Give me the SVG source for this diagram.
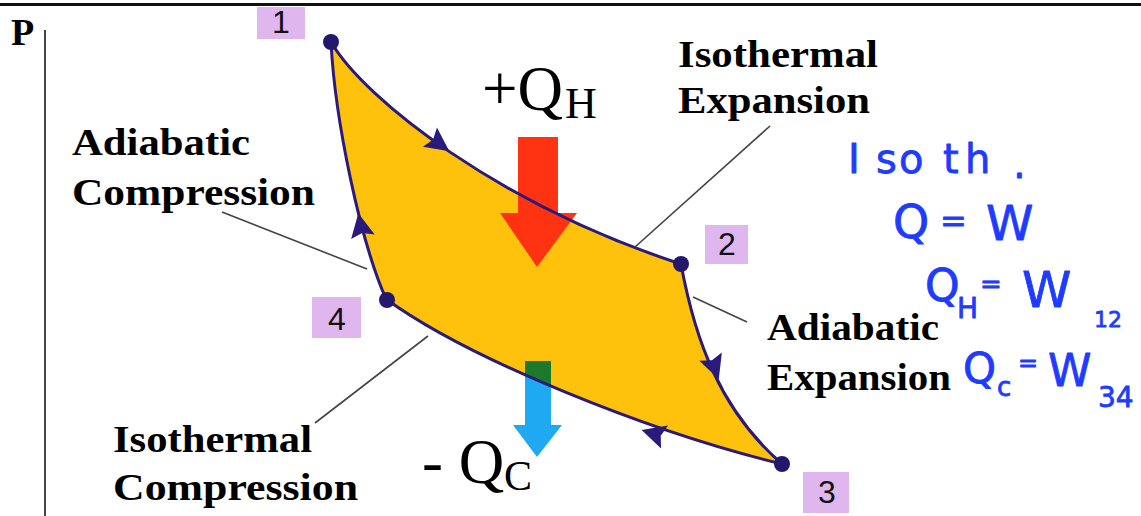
<svg xmlns="http://www.w3.org/2000/svg" width="1141" height="516" viewBox="0 0 1141 516">
<style>
.lbl{font-family:"Liberation Serif","Times New Roman",serif;font-weight:bold;font-size:38px;fill:#000}
.q{font-family:"Liberation Serif","Times New Roman",serif;fill:#000}
.num{font-family:"Liberation Sans",Arial,sans-serif;font-size:32px;fill:#111;text-anchor:middle}
.box{fill:#dfb6ee}
.lead{stroke:#444;stroke-width:1.6;fill:none}
.hw{font-family:"DejaVu Sans","Liberation Sans",sans-serif;fill:#1e3cff;stroke:#1e3cff;stroke-width:0.8;stroke-linejoin:round}
.dot{fill:#24186e}
.ah{fill:#2a1a7c}
</style>
<defs>
<path id="cyc" d="M331,42 C365,100 500,205 681,264 C695,340 720,410 782,464 C650,432 470,360 386,299 C360,240 335,120 331,42 Z"/>
<clipPath id="cycClip"><use href="#cyc"/></clipPath>
<path id="arrowHead" d="M14,0 L-10,-12 L-6,0 L-10,12 Z"/>
</defs>
<rect width="1141" height="516" fill="#fff"/>
<line x1="0" y1="4.5" x2="1141" y2="4.5" stroke="#111" stroke-width="3"/>
<g id="axis">
<line x1="45" y1="30" x2="45" y2="516" stroke="#444" stroke-width="2"/>
<text x="11" y="45" class="lbl" font-size="36">P</text>
</g>
<g id="cycle">
<use href="#cyc" fill="#fec10c"/>
</g>
<g id="heat-in">
<polygon points="518,137 558,137 558,213 577,213 537,267 500,213 518,213" fill="#ff3312"/>
<text x="482" y="110" class="q" font-size="63">+Q</text>
<text x="565" y="118" class="q" font-size="44">H</text>
</g>
<g id="heat-out">
<polygon points="525,361 551,361 551,425 562,425 537,457 513,425 525,425" fill="#1fa9f3"/>
<polygon points="525,361 551,361 551,425 562,425 537,457 513,425 525,425" fill="#1d7a2c" clip-path="url(#cycClip)"/>
<text x="422" y="483" class="q" font-size="63">- Q</text>
<text x="504" y="490" class="q" font-size="42">C</text>
</g>
<g id="connectors">
<use href="#cyc" fill="none" stroke="#2a1a7c" stroke-width="3"/>
<use href="#arrowHead" class="ah" transform="translate(438,143) rotate(36)"/>
<use href="#arrowHead" class="ah" transform="translate(714,366) rotate(70)"/>
<use href="#arrowHead" class="ah" transform="translate(655,434) rotate(197)"/>
<use href="#arrowHead" class="ah" transform="translate(361,227) rotate(259)"/>
<line class="lead" x1="222" y1="212" x2="367" y2="269"/>
<line class="lead" x1="635" y1="247" x2="770" y2="126"/>
<line class="lead" x1="693" y1="297" x2="747" y2="322"/>
<line class="lead" x1="428" y1="336" x2="315" y2="423"/>
</g>
<g id="state1">
<rect class="box" x="257" y="7" width="48" height="32"/>
<text class="num" x="281" y="33">1</text>
<circle class="dot" cx="331" cy="42" r="8"/>
</g>
<g id="state2">
<rect class="box" x="705" y="225" width="43" height="39"/>
<text class="num" x="727" y="255">2</text>
<circle class="dot" cx="681" cy="264" r="8"/>
</g>
<g id="state3">
<rect class="box" x="803" y="472" width="46" height="41"/>
<text class="num" x="827" y="503">3</text>
<circle class="dot" cx="782" cy="464" r="8"/>
</g>
<g id="state4">
<rect class="box" x="312" y="297" width="49" height="41"/>
<text class="num" x="337" y="330">4</text>
<circle class="dot" cx="387" cy="300" r="8"/>
</g>
<g id="label-adiabatic-compression">
<text class="lbl" x="72" y="155" textLength="178" lengthAdjust="spacingAndGlyphs">Adiabatic</text>
<text class="lbl" x="72" y="205" textLength="243" lengthAdjust="spacingAndGlyphs">Compression</text>
</g>
<g id="label-isothermal-expansion">
<text class="lbl" x="678" y="67" textLength="200" lengthAdjust="spacingAndGlyphs">Isothermal</text>
<text class="lbl" x="678" y="113" textLength="192" lengthAdjust="spacingAndGlyphs">Expansion</text>
</g>
<g id="label-adiabatic-expansion">
<text class="lbl" x="767" y="340" textLength="172" lengthAdjust="spacingAndGlyphs">Adiabatic</text>
<text class="lbl" x="767" y="390" textLength="184" lengthAdjust="spacingAndGlyphs">Expansion</text>
</g>
<g id="label-isothermal-compression">
<text class="lbl" x="113" y="452" textLength="199" lengthAdjust="spacingAndGlyphs">Isothermal</text>
<text class="lbl" x="113" y="500" textLength="245" lengthAdjust="spacingAndGlyphs">Compression</text>
</g>
<g id="handwritten-notes">
<text class="hw" font-size="40" y="173"><tspan x="848">I</tspan><tspan x="876">s</tspan><tspan x="899">o</tspan><tspan x="943">t</tspan><tspan x="965">h</tspan><tspan x="1013" y="178">.</tspan></text>
<text class="hw" font-size="46" x="893" y="238">Q</text>
<text class="hw" font-size="32" x="940" y="232">=</text>
<text class="hw" font-size="48" x="986" y="240">W</text>
<text class="hw" font-size="44" x="925" y="301">Q</text>
<text class="hw" font-size="28" x="957" y="318">H</text>
<text class="hw" font-size="26" x="980" y="293">=</text>
<text class="hw" font-size="50" x="1022" y="307">W</text>
<text class="hw" font-size="22" x="1094" y="327">12</text>
<text class="hw" font-size="42" x="963" y="383">Q</text>
<text class="hw" font-size="26" x="997" y="396">c</text>
<text class="hw" font-size="24" x="1018" y="371">=</text>
<text class="hw" font-size="44" x="1048" y="386">W</text>
<text class="hw" font-size="28" x="1098" y="407">34</text>
</g>
</svg>
